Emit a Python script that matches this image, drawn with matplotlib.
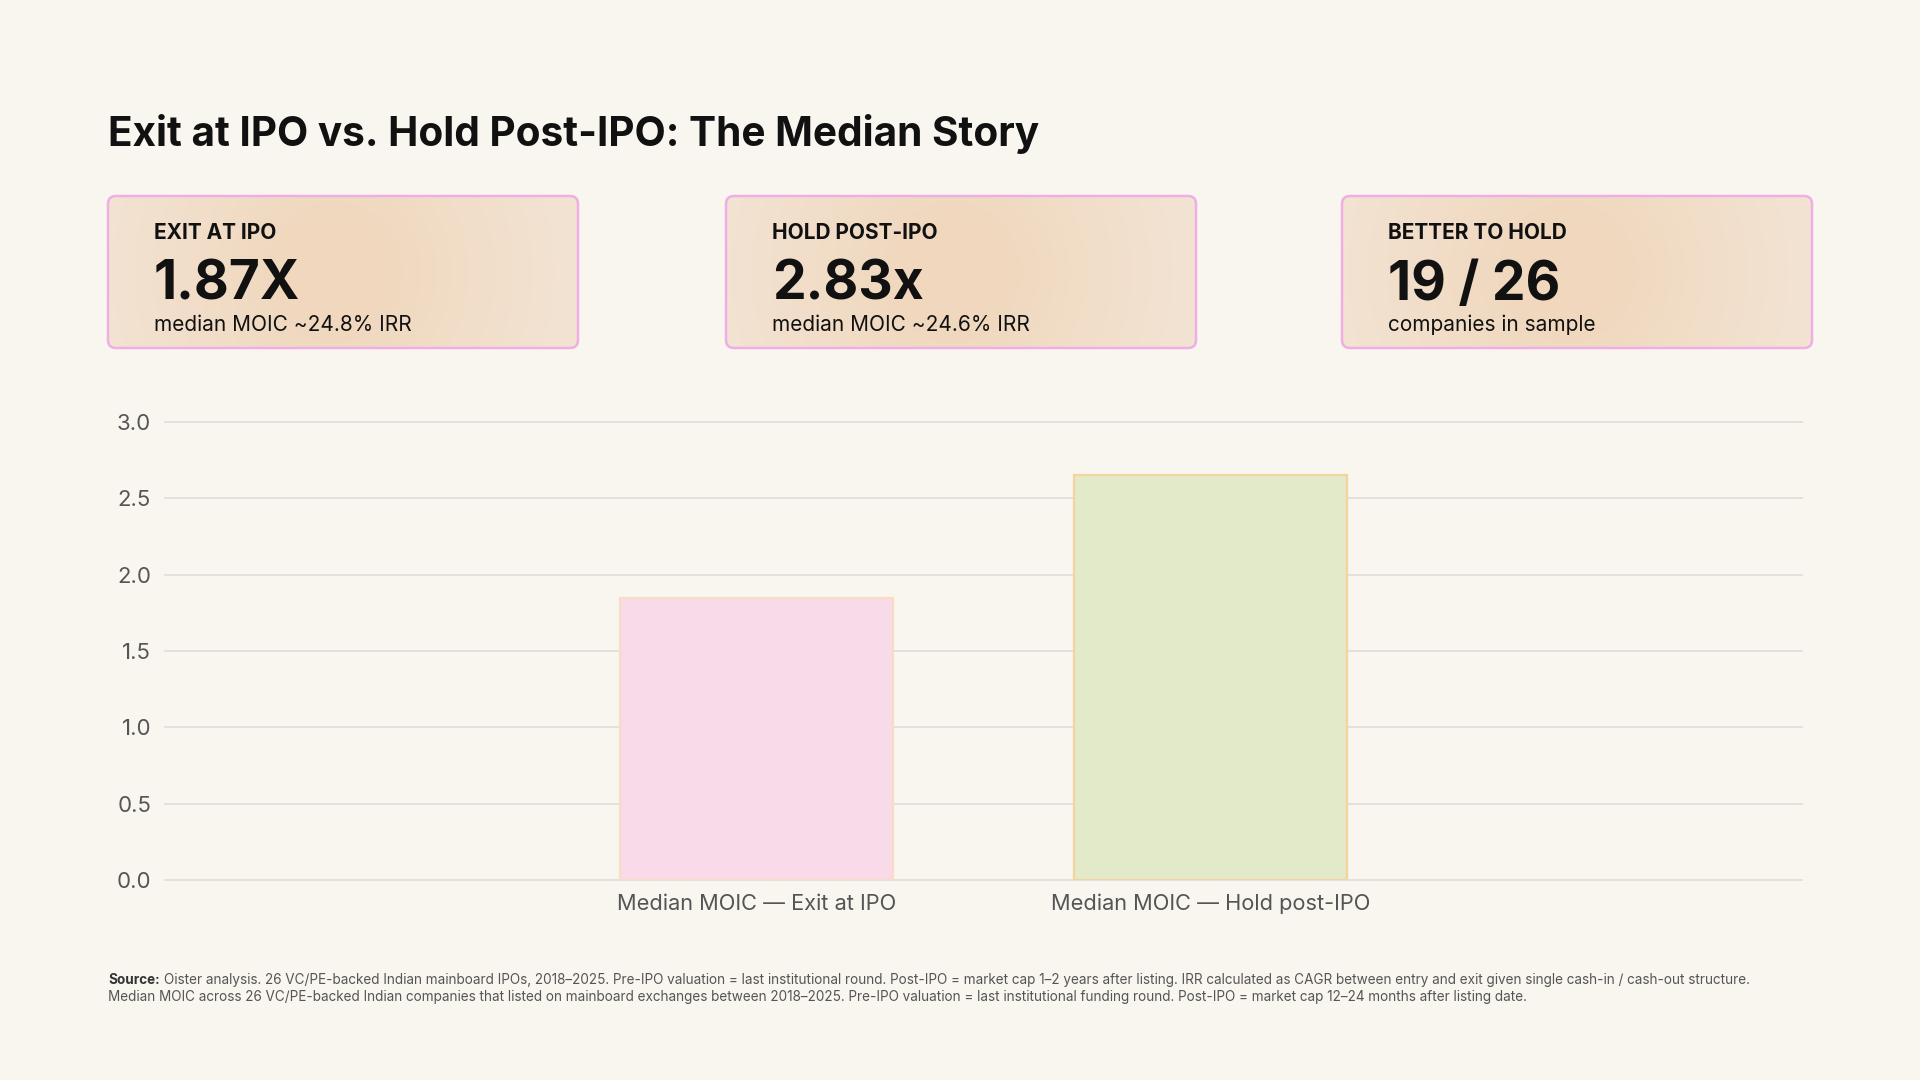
import matplotlib.pyplot as plt
import numpy as np
from matplotlib.patches import FancyBboxPatch

plt.rcParams['font.family'] = ['Inter', 'DejaVu Sans']

# --- dati ---
title = 'Exit at IPO vs. Hold Post-IPO: The Median Story'
card_labels = ['EXIT AT IPO', 'HOLD POST-IPO', 'BETTER TO HOLD']
card_values = ['1.87X', '2.83x', '19 / 26']
card_notes = ['median MOIC ~24.8% IRR', 'median MOIC ~24.6% IRR', 'companies in sample']

categories = ['Median MOIC \u2014 Exit at IPO', 'Median MOIC \u2014 Hold post-IPO']
moic = [1.85, 2.65]
y_ticks = [0.0, 0.5, 1.0, 1.5, 2.0, 2.5, 3.0]

footnote_1 = ('Oister analysis. 26 VC/PE-backed Indian mainboard IPOs, 2018\u20132025. '
              'Pre-IPO valuation = last institutional round. Post-IPO = market cap 1\u20132 years after listing. '
              'IRR calculated as CAGR between entry and exit given single cash-in / cash-out structure.')
footnote_2 = ('Median MOIC across 26 VC/PE-backed Indian companies that listed on mainboard exchanges '
              'between 2018\u20132025. Pre-IPO valuation = last institutional funding round. '
              'Post-IPO = market cap 12\u201324 months after listing date.')

# --- stile ---
BG = '#f9f6f0'
TXT = '#111111'
GREY = '#555555'
bar_fill = ['#f9dae8', '#e3eaca']
bar_edge = ['#f8dcc4', '#f3d49e']

W, H = 1920, 1080
fig = plt.figure(figsize=(W / 100, H / 100), dpi=100, facecolor=BG)

# layer in pixel per titolo, card e note
bg = fig.add_axes([0, 0, 1, 1])
bg.set_xlim(0, W)
bg.set_ylim(H, 0)
bg.axis('off')
bg.set_facecolor(BG)

bg.text(108, 134, title, fontsize=29.2, fontweight='bold', color=TXT, va='center', ha='left')

# card con gradiente
card_x = [108, 726, 1342]
card_w, card_y0, card_y1 = 470, 196, 348
edge_c = np.array([243, 229, 214]) / 255
mid_c = np.array([240, 215, 189]) / 255
u = np.linspace(0, 1, 300)
v = np.linspace(0, 1, 100)
U, V = np.meshgrid(u, v)
t = np.exp(-((U - 0.48) / 0.38) ** 2 - ((V - 0.5) / 1.2) ** 2)
grad = edge_c + (mid_c - edge_c) * t[..., None]

for x0, lab, val, note in zip(card_x, card_labels, card_values, card_notes):
    box = FancyBboxPatch((x0, card_y0), card_w, card_y1 - card_y0,
                         boxstyle='round,pad=0,rounding_size=8',
                         facecolor='none', edgecolor='#eeaee6', linewidth=1.8, zorder=3)
    bg.add_patch(box)
    im = bg.imshow(grad, extent=(x0, x0 + card_w, card_y1, card_y0), aspect='auto', zorder=2)
    im.set_clip_path(box)
    bg.text(x0 + 46, 233, lab, fontsize=15, fontweight='bold', color=TXT, va='center', zorder=4)
    bg.text(x0 + 46, 300, val, fontsize=38.5, fontweight='bold', color=TXT, va='baseline', zorder=4)
    bg.text(x0 + 46, 325, note, fontsize=15, color=TXT, va='center', zorder=4)

bg.set_xlim(0, W)
bg.set_ylim(H, 0)

# note a piè di pagina
src = bg.text(108, 980, 'Source:', fontsize=9.75, fontweight='bold', color='#333333', va='center')
r = fig.canvas.get_renderer()
src_w = src.get_window_extent(renderer=r).width
bg.text(108 + src_w + 4, 980, footnote_1, fontsize=9.75, color=GREY, va='center')
bg.text(108, 997, footnote_2, fontsize=9.75, color=GREY, va='center')

# --- grafico a barre ---
ax_l, ax_r, ax_t, ax_b = 165, 1802, 422, 880
ax = fig.add_axes([ax_l / W, 1 - ax_b / H, (ax_r - ax_l) / W, (ax_b - ax_t) / H])
ax.set_facecolor('none')
x = np.arange(len(categories))
ax.bar(x, moic, width=0.6, color=bar_fill, edgecolor=bar_edge, linewidth=1.6, zorder=3)
ax.set_xlim(-1.3, 2.3)
ax.set_ylim(0, 3.0)
ax.set_yticks(y_ticks)
ax.set_yticklabels([f'{v:.1f}' for v in y_ticks])
ax.set_xticks(x)
ax.set_xticklabels(categories)
ax.grid(axis='y', color='#e2dfda', linewidth=1.3, zorder=0)
ax.grid(axis='x', visible=False)
for s in ax.spines.values():
    s.set_visible(False)
ax.tick_params(axis='both', length=0, colors=GREY)
ax.tick_params(axis='y', pad=10, labelsize=16)
ax.tick_params(axis='x', pad=10, labelsize=15.7)
for gl in ax.get_ygridlines():
    gl.set_clip_on(False)

fig.savefig('out.png', dpi=100, facecolor=BG)
